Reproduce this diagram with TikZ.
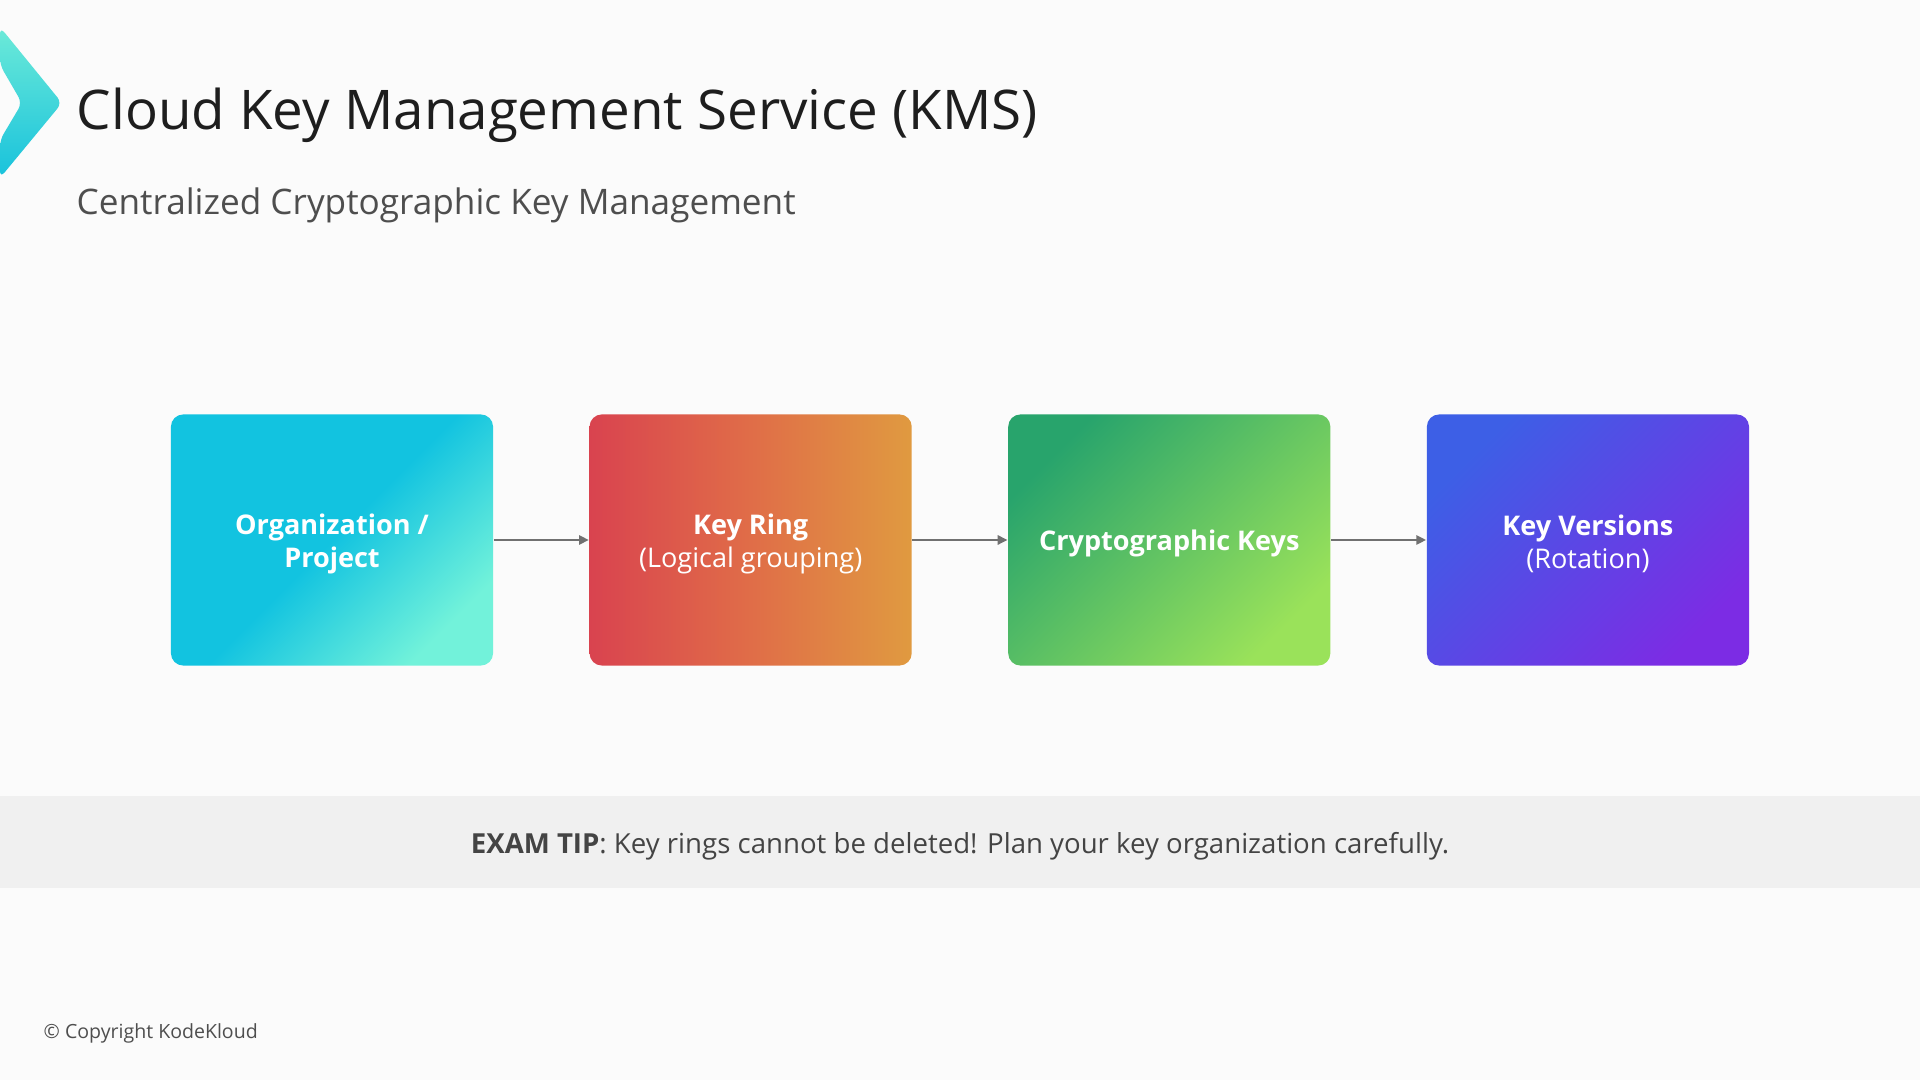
\documentclass[tikz,border=0pt]{standalone}
\usepackage{fontspec}
\setmainfont{Open Sans}
\usetikzlibrary{arrows.meta,positioning}

\definecolor{pagebg}{HTML}{FBFBFB}
\definecolor{tipband}{HTML}{F0F0F0}
\definecolor{titleink}{HTML}{1E1E1E}
\definecolor{subink}{HTML}{4E4E4E}
\definecolor{tipink}{HTML}{444444}
\definecolor{arrgray}{HTML}{707070}
\definecolor{logomint}{HTML}{6CEAD8}
\definecolor{logocyan}{HTML}{18C2DC}
\definecolor{orgcyan}{HTML}{12C3E0}
\definecolor{orgmint}{HTML}{72F2DA}
\definecolor{ringred}{HTML}{D9434F}
\definecolor{ringmid}{HTML}{E06D48}
\definecolor{ringorange}{HTML}{E09A40}
\definecolor{keydark}{HTML}{28A46C}
\definecolor{keylight}{HTML}{9AE25A}
\definecolor{verblue}{HTML}{3D5FE6}
\definecolor{verpurple}{HTML}{7C2CE4}

\begin{document}
\begin{tikzpicture}[x=0.01cm,y=-0.01cm,
  stage/.style={rounded corners=3.5pt,minimum width=3.22cm,minimum height=2.51cm,inner sep=0pt},
  stagetext/.style={text=white,align=center,inner sep=0pt,yshift=-1.05pt,
    font=\fontsize{7.7}{9.4}\selectfont},
  arr/.style={-{Triangle[length=2.8pt,width=2.6pt]},line width=0.8pt,arrgray},
  heading/.style={anchor=base west,inner sep=0pt},
  node distance=0.95cm
]
  % page
  \fill[pagebg] (0,0) rectangle (1920,1080);
  \useasboundingbox (0,0) rectangle (1920,1080);

  % logo chevron
  \shade[top color=logomint,bottom color=logocyan,rounded corners=2pt]
    (0,27) -- (62,103) -- (0,178) -- (0,140) -- (22,103) -- (0,65) -- cycle;

  \node[heading,font=\fontsize{15.55}{18}\selectfont,text=titleink] (title) at (76,130)
    {Cloud Key Management Service (KMS)};
  \node[heading,font=\fontsize{10}{12}\selectfont,text=subink] (subtitle) at (76,215)
    {Centralized Cryptographic Key Management};

  % hierarchy
  \node[stage,top color=orgcyan,bottom color=orgmint,middle color=orgcyan,shading angle=45,
    label={[stagetext]center:{\textbf{Organization /}\\\textbf{Project}}}] (org) at (332,540) {};
  \node[stage,right=of org,left color=ringred,right color=ringorange,middle color=ringmid,
    label={[stagetext]center:{\textbf{Key Ring}\\(Logical grouping)}}] (ring) {};
  \node[stage,right=of ring,top color=keydark,bottom color=keylight,shading angle=45,
    label={[stagetext]center:{\textbf{Cryptographic Keys}}}] (keys) {};
  \node[stage,right=of keys,top color=verblue,bottom color=verpurple,shading angle=45,
    label={[stagetext]center:{\textbf{Key Versions}\\(Rotation)}}] (versions) {};

  \draw[arr] (org) -- (ring);
  \draw[arr] (ring) -- (keys);
  \draw[arr] (keys) -- (versions);

  % tip bar
  \fill[tipband] (0,796) rectangle (1920,888);
  \node[anchor=base,inner sep=0pt,text=tipink,font=\fontsize{7.85}{9}\selectfont]
    (tip) at (960,853.5)
    {\textbf{EXAM TIP}: Key rings cannot be deleted! Plan your key organization carefully.};

  \node[heading,text=subink,font=\fontsize{5.56}{7}\selectfont] (copyright) at (43,1039)
    {© Copyright KodeKloud};
\end{tikzpicture}
\end{document}
